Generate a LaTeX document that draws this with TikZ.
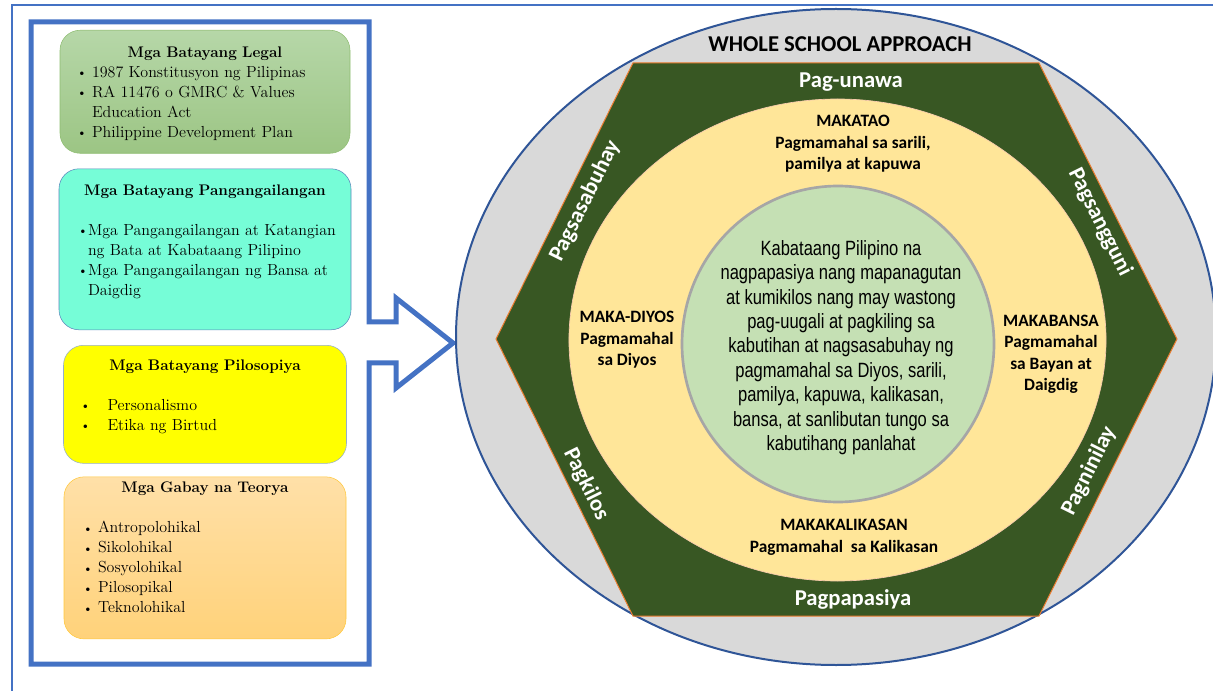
\documentclass[tikz,border=0pt]{standalone}
\usepackage{fontspec}
\usepackage{tikz}
\usetikzlibrary{positioning, calc}
\newfontfamily\calfont{Carlito}
\newfontfamily\narrowfont[FakeStretch=0.8]{Liberation Sans}
\definecolor{frameblue}{HTML}{4472C4}
\definecolor{ringblue}{HTML}{2F5597}
\definecolor{legaltop}{HTML}{B6D7A8}
\definecolor{legalbot}{HTML}{9CC584}
\definecolor{legaledge}{HTML}{8FBD72}
\definecolor{needfill}{HTML}{76FDD7}
\definecolor{neededge}{HTML}{5B86BC}
\definecolor{philfill}{HTML}{FFFF00}
\definecolor{philedge}{HTML}{95AECB}
\definecolor{teotop}{HTML}{FFE0A8}
\definecolor{teobot}{HTML}{FFD27A}
\definecolor{teoedge}{HTML}{FFC83D}
\definecolor{wsagray}{HTML}{D9D9D9}
\definecolor{hexgreen}{HTML}{385723}
\definecolor{hexedge}{HTML}{ED7D31}
\definecolor{valfill}{HTML}{FFE699}
\definecolor{corefill}{HTML}{C5E0B4}
\definecolor{coreedge}{HTML}{A6A6A6}
\newcommand{\bitem}[2][11.25pt]{\hangindent=#1\hangafter=1\noindent
  \makebox[#1][l]{\raisebox{0.6pt}{\small\textbullet}}#2\par}
\newcommand{\boxtitle}[1]{{\centering\bfseries\fontsize{11.5}{15}\selectfont\strut #1\par}}

\begin{document}
\begin{tikzpicture}[x=0.75pt, y=-0.75pt, node distance=11.25pt,
  basebox/.style={draw, rounded corners=15pt, inner sep=0pt},
  boxtxt/.style={inner sep=0pt, align=left, font=\fontsize{12}{15}\selectfont},
  ringlbl/.style={text=white, font=\calfont\bfseries\fontsize{17}{20}\selectfont},
  valuelbl/.style={align=center, font=\calfont\bfseries\fontsize{13}{16.1}\selectfont}]
\useasboundingbox (0,0) rectangle (1213,691);

\draw[frameblue, line width=1.5pt] (12,691) -- (12,5.5) -- (1213,5.5);
\draw[frameblue, line width=3.75pt] (31,22) -- (369,22) -- (369,322) -- (396,322) -- (396,298)
  -- (453,343) -- (396,388) -- (396,363) -- (369,363) -- (369,664) -- (31,664) -- cycle;

\node[basebox, draw=legaledge, top color=legaltop, bottom color=legalbot,
  minimum width=217.5pt, minimum height=92.25pt, anchor=north] (legal) at (205,30) {};
\node[basebox, draw=neededge, fill=needfill, below=of legal,
  minimum width=219pt, minimum height=120.75pt] (need) {};
\node[basebox, draw=philedge, fill=philfill, below=of need,
  minimum width=212.25pt, minimum height=88.5pt] (phil) {};
\node[basebox, draw=teoedge, top color=teotop, bottom color=teobot, below=9.75pt of phil,
  minimum width=211.5pt, minimum height=121.5pt] (teo) {};

\node[boxtxt, text width=192pt, below=9.75pt of legal.north] (legaltxt) {%
  \boxtitle{Mga Batayang Legal}%
  \bitem{1987 Konstitusyon ng Pilipinas}%
  \bitem{RA 11476 o GMRC \& Values\newline Education Act}%
  \bitem{Philippine Development Plan}};
\node[boxtxt, text width=190.5pt, below=9.75pt of need.north] (needtxt) {%
  \boxtitle{Mga Batayang Pangangailangan}\vskip15pt
  \bitem[7.5pt]{\mbox{Mga Pangangailangan at Katangian}\newline ng Bata at Kabataang Pilipino}%
  \bitem[7.5pt]{\mbox{Mga Pangangailangan ng Bansa at}\newline Daigdig}};
\node[boxtxt, text width=186.75pt, below=8.25pt of phil.north] (philtxt) {%
  \boxtitle{Mga Batayang Pilosopiya}\vskip15pt
  \bitem[20.25pt]{Personalismo}%
  \bitem[20.25pt]{Etika ng Birtud}};
\node[boxtxt, text width=183pt, below=1.5pt of teo.north] (teotxt) {%
  \boxtitle{Mga Gabay na Teorya}\vskip15pt
  \bitem{Antropolohikal}%
  \bitem{Sikolohikal}%
  \bitem{Sosyolohikal}%
  \bitem{Pilosopikal}%
  \bitem{Teknolohikal}};

\draw[ringblue, fill=wsagray, line width=1.5pt] (836,337) ellipse [x radius=285pt, y radius=246pt];
\draw[hexedge, fill=hexgreen, line width=0.75pt] (633,63) -- (1039,63) -- (1177,339)
  -- (1039,616) -- (633,616) -- (496,339) -- cycle;
\draw[hexedge!40, fill=valfill, line width=0.5pt] (837.5,340) ellipse [x radius=201.4pt, y radius=180.75pt];
\draw[coreedge, fill=corefill, line width=2pt] (838,344) ellipse [x radius=117pt, y radius=118.5pt];

\node[font=\calfont\bfseries\fontsize{17}{20}\selectfont] (wsa) at (840,44) {WHOLE SCHOOL APPROACH};
\node[ringlbl] (unawa) at (851,82) {Pag-unawa};
\node[ringlbl] (pasiya) at (853,599) {Pagpapasiya};
\node[ringlbl, rotate=63.6] (sabuhay) at (585,201) {Pagsasabuhay};
\node[ringlbl, rotate=-63.6] (sangguni) at (1100,222) {Pagsangguni};
\node[ringlbl, rotate=-63.6] (kilos) at (586,484) {Pagkilos};
\node[ringlbl, rotate=63.6] (ninilay) at (1089,471) {Pagninilay};

\node[valuelbl] (makatao) at (853,144) {MAKATAO\\Pagmamahal sa sarili,\\pamilya at kapuwa};
\node[valuelbl] (makadiyos) at (627,340) {MAKA-DIYOS\\Pagmamahal\\sa Diyos};
\node[valuelbl] (makabansa) at (1051,354.5) {MAKABANSA\\Pagmamahal\\sa Bayan at\\Daigdig};
\node[valuelbl] (makakalikasan) at (844,537.5) {MAKAKALIKASAN\\Pagmamahal\ \ sa Kalikasan};

\node[align=center, font=\narrowfont\fontsize{15.5}{18.3}\selectfont] (core) at (841,347.5)
  {Kabataang Pilipino na\\nagpapasiya nang mapanagutan\\at kumikilos nang may wastong\\
   pag-uugali at pagkiling sa\\kabutihan at nagsasabuhay ng\\pagmamahal sa Diyos, sarili,\\
   pamilya, kapuwa, kalikasan,\\bansa, at sanlibutan tungo sa\\kabutihang panlahat};
\end{tikzpicture}
\end{document}
